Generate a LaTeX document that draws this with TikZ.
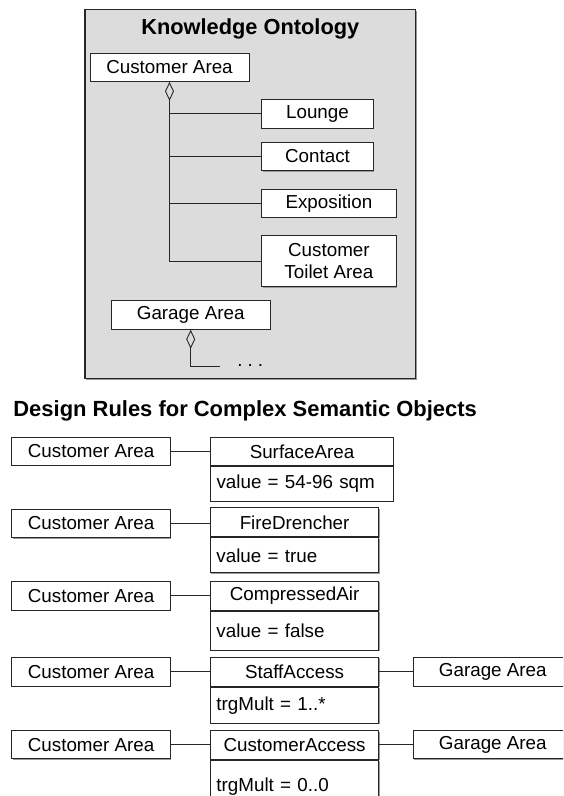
\documentclass[tikz,border=0pt]{standalone}
\usepackage{fontspec}
\setmainfont{Liberation Sans}
\usetikzlibrary{arrows.meta,shadows}
\definecolor{panelgray}{HTML}{DCDCDC}
\definecolor{edge}{HTML}{262626}
\begin{document}
\begin{tikzpicture}[x=1pt,y=-1pt,
  txt/.style={font=\fontsize{18.8}{22.3}\selectfont},
  edgeshadow/.style={drop shadow={shadow xshift=0.9pt, shadow yshift=-0.9pt,
    fill=black!40, opacity=1}},
  box/.style={txt, draw=edge, line width=0.9pt, fill=white, rectangle,
    inner sep=0pt, align=center, edgeshadow},
  attrbox/.style={box, anchor=north, align=left, inner xsep=6pt},
  link/.style={draw=edge, line width=0.9pt},
  agg/.style={link, {Diamond[open, length=19pt, width=9pt, line width=0.9pt]}-},
  heading/.style={font=\fontsize{21.8}{26}\selectfont\bfseries, inner sep=0pt}
]
\useasboundingbox (0,0) rectangle (563,796);
\clip (0,0) rectangle (563,796);

% ---------- knowledge ontology panel ----------
\fill[black!40] (86.2,10.7) rectangle (416.9,379.5);
\draw[draw=edge, line width=1.1pt, fill=panelgray] (85,9.5) rectangle (415.7,378.3);
\node[heading] (onto) at (250.3,29) {Knowledge Ontology};

\node[box, minimum width=159pt, minimum height=28.3pt] (ca) at (169.5,67.2) {Customer Area};
\node[box, minimum width=111.6pt, minimum height=28.6pt] (lounge) at (317.5,113.7) {Lounge};
\node[box, minimum width=111.6pt, minimum height=28.4pt] (contact) at (317.5,156.5) {Contact};
\node[box, minimum width=134.3pt, minimum height=28.3pt] (expo) at (328.9,203.2) {Exposition};
\node[box, minimum width=134.3pt, minimum height=51pt] (toilet) at (328.9,261.2) {Customer\\Toilet Area};

\draw[agg] (ca.south) -- (ca.south |- toilet.west) -- (toilet.west);
\draw[link] (ca.south |- lounge.west) -- (lounge.west);
\draw[link] (ca.south |- contact.west) -- (contact.west);
\draw[link] (ca.south |- expo.west) -- (expo.west);

\node[box, minimum width=159.3pt, minimum height=28.6pt] (ga) at (190.7,315) {Garage Area};
\coordinate (gend) at (220,366);
\draw[agg] (ga.south) |- (gend);
\node[txt, anchor=base, inner sep=0pt] (more) at (250.3,366.5) {.\hspace{5pt}.\hspace{5pt}.};

% ---------- design rules ----------
\node[heading, font=\fontsize{21.95}{26}\selectfont\bfseries, anchor=west] (rules) at (13.2,411) {Design Rules for Complex Semantic Objects};

% row 1
\node[box, minimum width=158.7pt, minimum height=28.3pt] (c1) at (91.1,451.4) {Customer Area};
\node[box, minimum width=182.9pt, minimum height=28.3pt] (h1) at (302,451.4) {SurfaceArea};
\node[attrbox, text width=170.9pt, minimum height=34.8pt] (a1) at (h1.south) {value = 54-96 sqm};
\draw[link] (c1.east) -- (c1.east -| h1.west);

% row 2
\node[box, minimum width=158.7pt, minimum height=28.4pt] (c2) at (91.1,523.5) {Customer Area};
\node[box, minimum width=168.3pt, minimum height=29pt] (h2) at (294.6,522.4) {FireDrencher};
\node[attrbox, text width=156.3pt, minimum height=35pt] (a2) at (h2.south) {value = true};
\draw[link] (c2.east) -- (c2.east -| h2.west);

% row 3
\node[box, minimum width=158.7pt, minimum height=28.3pt] (c3) at (91.1,595.8) {Customer Area};
\node[box, minimum width=168.3pt, minimum height=29.5pt] (h3) at (294.6,595.8) {CompressedAir};
\node[attrbox, text width=156.3pt, minimum height=38.5pt] (a3) at (h3.south) {value = false};
\draw[link] (c3.east) -- (c3.east -| h3.west);

% row 4
\node[box, minimum width=158.7pt, minimum height=28.3pt] (c4) at (91.1,671.8) {Customer Area};
\node[box, minimum width=168.3pt, minimum height=29pt] (h4) at (294.6,672) {StaffAccess};
\node[attrbox, text width=156.3pt, minimum height=36pt] (a4) at (h4.south) {trgMult = 1..*};
\node[box, minimum width=159pt, minimum height=28.4pt] (g4) at (492.8,671.8) {Garage Area};
\draw[link] (c4.east) -- (c4.east -| h4.west);
\draw[link] (h4.east |- g4.west) -- (g4.west);

% row 5
\node[box, minimum width=158.7pt, minimum height=28.4pt] (c5) at (91.1,744.6) {Customer Area};
\node[box, minimum width=168.3pt, minimum height=28.6pt] (h5) at (294.6,745) {CustomerAccess};
\node[attrbox, text width=156.3pt, minimum height=53pt] (a5) at (h5.south) {trgMult = 0..0};
\node[box, minimum width=159pt, minimum height=28.4pt] (g5) at (492.8,744.6) {Garage Area};
\draw[link] (c5.east) -- (c5.east -| h5.west);
\draw[link] (h5.east |- g5.west) -- (g5.west);
\end{tikzpicture}
\end{document}
